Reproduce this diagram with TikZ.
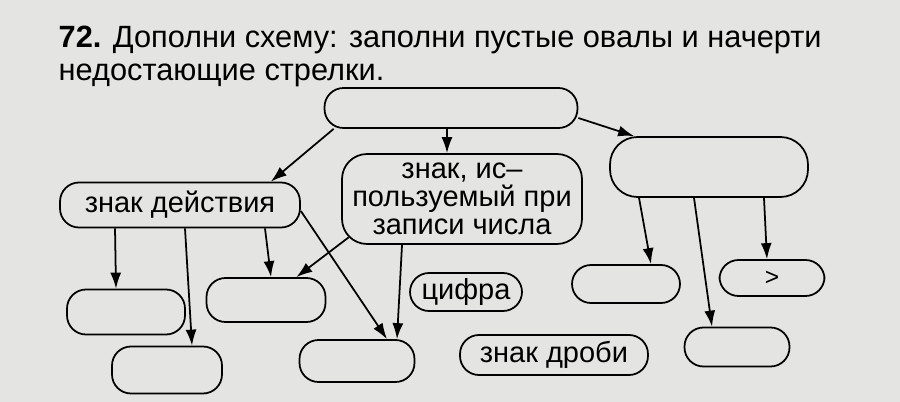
\documentclass[tikz,border=0pt]{standalone}
\usepackage{fontspec}
\setmainfont{Liberation Sans}
\usepackage{xcolor}
\usepackage{tikz}
\usetikzlibrary{arrows.meta}
\definecolor{paper}{RGB}{228,228,226}

\begin{document}
\begin{tikzpicture}[x=0.02cm, y=-0.02cm, line width=1pt, >={Latex[length=3.2mm,width=2.2mm]},
  oval/.style={rectangle, draw, rounded corners=0.38cm, inner sep=0pt, align=center, font=\fontsize{16.5}{16}\selectfont},
  blank/.style={oval, minimum width=2.25cm, minimum height=0.84cm}]
\fill[paper] (0,0) rectangle (900,402);
\useasboundingbox (0,0) rectangle (900,402);
\node[anchor=west, font=\fontsize{17.5}{20}\selectfont] (title1) at (52,40) {\textbf{72.} Дополни схему: заполни пустые овалы и начерти};
\node[anchor=west, font=\fontsize{17.5}{20}\selectfont] (title2) at (52,75) {недостающие стрелки.};
\node[oval, minimum width=5.06cm, minimum height=0.8cm] (top) at (451,108) {};
\node[oval, minimum width=3.96cm, minimum height=1.2cm, rounded corners=0.55cm] (big) at (709,167) {};
\node[oval, minimum width=4.8cm, minimum height=0.9cm] (act) at (180,205) {знак действия};
\node[oval, minimum width=4.8cm, minimum height=1.8cm, rounded corners=0.5cm] (mid) at (462,199) {знак, ис--\\пользуемый при\\записи числа};
\node[blank, minimum width=2.36cm, minimum height=0.9cm] (A) at (126,312) {};
\node[blank, minimum width=2.38cm, minimum height=0.88cm] (B) at (266,300) {};
\node[blank, minimum width=2.2cm, minimum height=0.94cm] (C) at (167,370) {};
\node[blank, minimum width=2.3cm] (D) at (357,361) {};
\node[oval, minimum width=2.24cm, minimum height=0.76cm] (digit) at (466,292) {цифра};
\node[oval, minimum width=3.76cm, minimum height=0.8cm] (frac) at (554,355) {знак дроби};
\node[blank, minimum width=2.16cm, minimum height=0.76cm] (E) at (626,284) {};
\node[blank, minimum width=2.1cm, minimum height=0.72cm, font=\fontsize{14}{14}\selectfont] (gt) at (772,278) {>};
\node[blank, minimum width=2.1cm, minimum height=0.78cm] (F) at (737,347) {};

\path[->] ([xshift=0.2cm]top.south west) edge ([xshift=-0.6cm]act.north east)
          ([xshift=-0.08cm]top.south) edge ([xshift=-0.3cm]mid.north)
          ([yshift=-0.2cm]top.east) edge ([xshift=0.5cm]big.north west)
          ([xshift=-1.3cm]act.south) edge ([xshift=-0.2cm]A.north)
          ([xshift=0.1cm]act.south) edge ([xshift=0.5cm]C.north)
          ([xshift=1.7cm]act.south) edge ([xshift=0.1cm]B.north)
          ([yshift=-0.12cm]act.east) edge ([xshift=0.6cm]D.north)
          ([shift={(0.15cm,0.15cm)}]mid.south west) edge ([xshift=-0.6cm]B.north east)
          ([xshift=-1.2cm]mid.south) edge ([xshift=0.8cm]D.north)
          ([xshift=-1.4cm]big.south) edge ([xshift=0.5cm]E.north)
          ([xshift=-0.3cm]big.south) edge ([xshift=-0.5cm]F.north)
          ([xshift=1.1cm]big.south) edge ([xshift=-0.1cm]gt.north)
;
\end{tikzpicture}
\end{document}
